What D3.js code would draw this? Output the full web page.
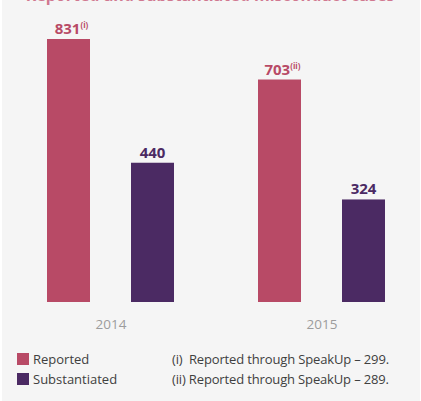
<!DOCTYPE html>
<html>
<head>
<meta charset="utf-8">
<script src="https://cdn.jsdelivr.net/npm/d3@7"></script>
<style>
  body { margin: 0; background: #fff; }
  svg { display: block; }
</style>
</head>
<body>
<div id="chart"></div>
<script>
const years = ['2014', '2015'];
const series = ['Reported', 'Substantiated'];
const reported = [831, 703];
const substantiated = [440, 324];
const notes = ['(i)', '(ii)'];
const footnotes = ['(i)  Reported through SpeakUp \u2013 299.', '(ii) Reported through SpeakUp \u2013 289.'];
const colors = ['#b84a66', '#4b2a63'];

const W = 421, H = 401;
const svg = d3.select('#chart').append('svg').attr('width', W).attr('height', H);

// panel background
svg.append('rect').attr('x', 2).attr('y', 0).attr('width', 418).attr('height', H).attr('fill', '#f5f5f5');

// title, cut off at the top like in the source page
svg.append('text')
  .attr('x', 210).attr('y', 0.9)
  .attr('text-anchor', 'middle')
  .attr('font-family', 'Open Sans, sans-serif')
  .attr('font-weight', 'bold')
  .attr('font-size', 16)
  .attr('fill', '#d07890')
  .text('Reported and substantiated misconduct cases');

const y = d3.scaleLinear().domain([0, 831]).range([302, 39]);
const barX = [47, 131];
const groupShift = 211;

const data = years.map((yr, i) => ({ year: yr, vals: [reported[i], substantiated[i]], note: notes[i] }));

const g = svg.selectAll('g.year').data(data).join('g')
  .attr('class', 'year')
  .attr('transform', (d, i) => `translate(${i * groupShift},0)`);

g.each(function(d) {
  const gg = d3.select(this);
  series.forEach((s, j) => {
    const bx = barX[j];
    const v = d.vals[j];
    gg.append('rect')
      .attr('x', bx).attr('width', 43)
      .attr('y', y(v)).attr('height', y(0) - y(v))
      .attr('fill', colors[j]);
    const t = gg.append('text')
      .attr('x', bx + 21.5 + (j === 0 ? 3 : 0)).attr('y', y(v) - 5)
      .attr('text-anchor', 'middle')
      .attr('font-family', 'Open Sans, sans-serif')
      .attr('font-weight', 'bold')
      .attr('font-size', 15)
      .attr('fill', colors[j]);
    t.append('tspan').text(v);
    if (j === 0) {
      t.append('tspan').attr('font-size', 8).attr('dy', -6).text(d.note);
    }
  });
  gg.append('text')
    .attr('x', 111).attr('y', 329)
    .attr('text-anchor', 'middle')
    .attr('font-family', 'Open Sans, sans-serif')
    .attr('font-size', 13.5)
    .attr('fill', '#9c9c9c')
    .text(d.year);
});

// legend
series.forEach((s, j) => {
  svg.append('rect').attr('x', 17).attr('y', 353 + j * 20).attr('width', 12).attr('height', 12).attr('fill', colors[j]);
  svg.append('text')
    .attr('x', 33).attr('y', 364 + j * 20)
    .attr('font-family', 'Open Sans, sans-serif')
    .attr('font-size', 13)
    .attr('fill', '#404040')
    .text(s);
});

footnotes.forEach((f, j) => {
  svg.append('text')
    .attr('x', 172).attr('y', 364 + j * 20)
    .attr('font-family', 'Open Sans, sans-serif')
    .attr('font-size', 13)
    .attr('letter-spacing', -0.15)
    .attr('xml:space', 'preserve')
    .attr('fill', '#404040')
    .text(f);
});
</script>
</body>
</html>
